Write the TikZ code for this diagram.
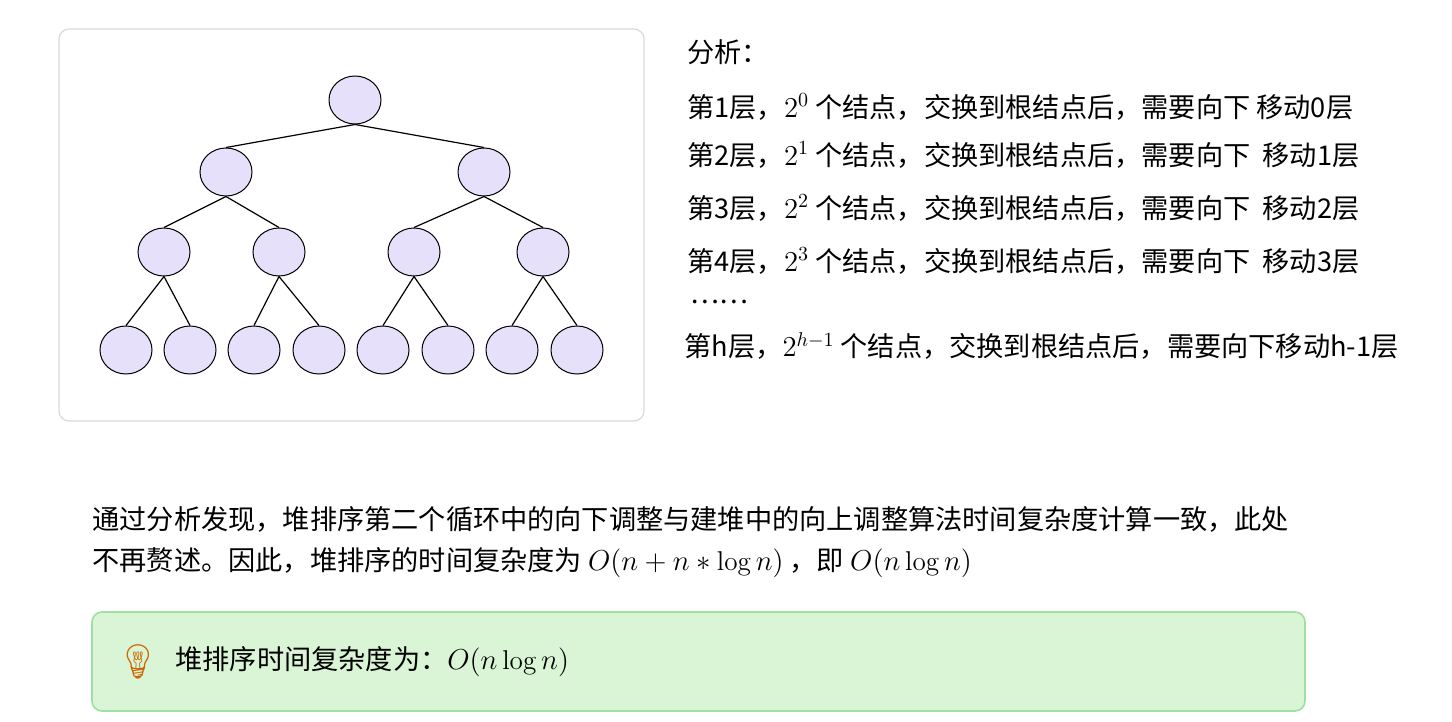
\documentclass[tikz,border=0pt]{standalone}
\usepackage{fontspec}
\newfontfamily\cjk{Noto Sans CJK SC}
\newfontfamily\emo{Noto Emoji}
\definecolor{lav}{HTML}{E6E0FA}
\definecolor{gfill}{HTML}{DAF5D6}
\definecolor{gline}{HTML}{9DE0A0}
\begin{document}
\begin{tikzpicture}[x=0.5pt,y=-0.5pt,
  tn/.style={ellipse,draw=black,fill=lav,minimum width=26pt,minimum height=24pt,inner sep=0pt,line width=0.5pt},
  tx/.style={anchor=west,inner sep=0pt,font=\cjk\fontsize{13.6}{16}\selectfont},
  ed/.style={line width=0.6pt}]
\usetikzlibrary{shapes.geometric}
\useasboundingbox (0,0) rectangle (1452,722);
\draw[black!15,rounded corners=5pt,line width=0.6pt] (59,29) rectangle (644,421);
\node[tn] (r) at (355,100) {};
\node[tn] (a) at (226,172) {}; \node[tn] (b) at (484,172) {};
\node[tn] (a1) at (164,252) {}; \node[tn] (a2) at (279,252) {};
\node[tn] (b1) at (414,252) {}; \node[tn] (b2) at (543,252) {};
\foreach \n/\x in {l1/126,l2/190,l3/254,l4/319,l5/383,l6/448,l7/512,l8/577}
  \node[tn] (\n) at (\x,350) {};
\draw[ed] (r.south) -- (a.north); \draw[ed] (r.south) -- (b.north);
\draw[ed] (a.south) -- (a1.north); \draw[ed] (a.south) -- (a2.north);
\draw[ed] (b.south) -- (b1.north); \draw[ed] (b.south) -- (b2.north);
\draw[ed] (a1.south) -- (l1.north); \draw[ed] (a1.south) -- (l2.north);
\draw[ed] (a2.south) -- (l3.north); \draw[ed] (a2.south) -- (l4.north);
\draw[ed] (b1.south) -- (l5.north); \draw[ed] (b1.south) -- (l6.north);
\draw[ed] (b2.south) -- (l7.north); \draw[ed] (b2.south) -- (l8.north);
\node[tx] (t0) at (687,52) {分析：};
\node[tx] (t1) at (687,107) {第1层，$2^0$ 个结点，交换到根结点后，需要向下 移动0层};
\node[tx] (t2) at (687,155) {第2层，$2^1$ 个结点，交换到根结点后，需要向下 \ 移动1层};
\node[tx] (t3) at (687,208) {第3层，$2^2$ 个结点，交换到根结点后，需要向下 \ 移动2层};
\node[tx] (t4) at (687,261) {第4层，$2^3$ 个结点，交换到根结点后，需要向下 \ 移动3层};
\node[tx] (t5) at (690,302) {……};
\node[tx] (t6) at (684,346) {第h层，$2^{h-1}$ 个结点，交换到根结点后，需要向下移动h-1层};
\node[tx] (p1) at (92,519) {通过分析发现，堆排序第二个循环中的向下调整与建堆中的向上调整算法时间复杂度计算一致，此处};
\node[tx] (p2) at (92,563) {不再赘述。因此，堆排序的时间复杂度为 $O(n+n*\log n)$ ，即 $O(n\log n)$};
\draw[gline,fill=gfill,rounded corners=5pt,line width=0.8pt] (92,612) rectangle (1305,711);
\node[inner sep=0pt,font=\emo\fontsize{17}{19}\selectfont,text=orange!80!black] (bulb) at (138,662) {💡};
\node[tx] (tip) at (175,662) {堆排序时间复杂度为：$O(n\log n)$};
\end{tikzpicture}
\end{document}
